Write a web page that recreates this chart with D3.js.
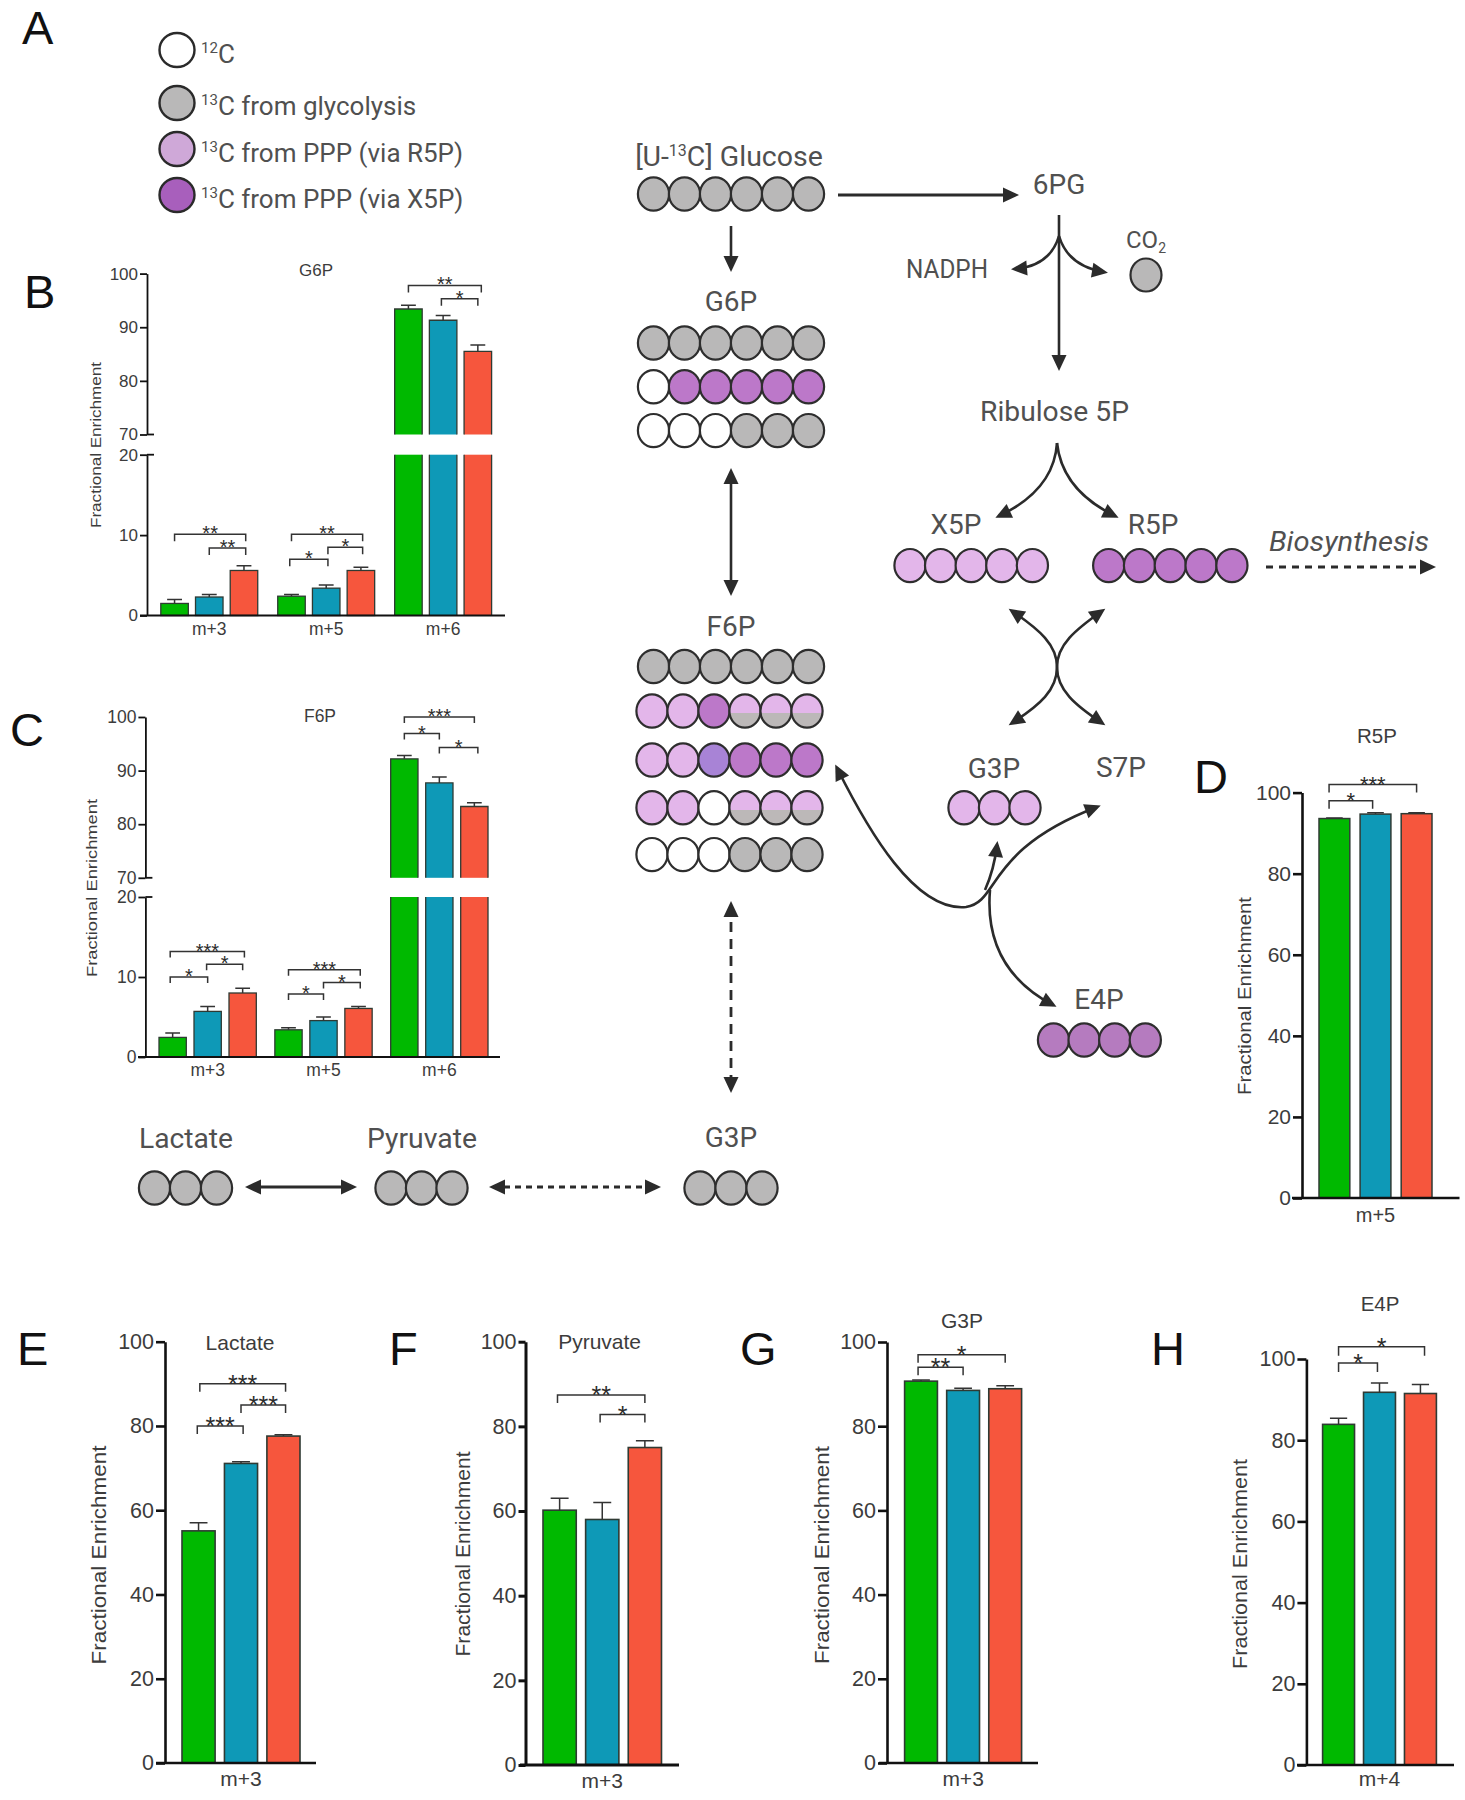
<!DOCTYPE html>
<html><head><meta charset="utf-8">
<script src="https://cdn.jsdelivr.net/npm/d3@7/dist/d3.min.js"></script>
<style>html,body{margin:0;padding:0;background:#fff}svg{display:block}</style>
</head><body><svg id="c" width="1465" height="1800" viewBox="0 0 1465 1800"></svg>
<script>
// ---------- data ----------
const seriesColors = ['#00b900', '#0e99b7', '#f6563d'];
const g6pCats = ['m+3', 'm+5', 'm+6'];
const g6pMeans = [1.5, 2.3, 5.6, 2.4, 3.4, 5.6, 93.4, 91.3, 85.5];
const g6pTops  = [2.0, 2.6, 6.2, 2.6, 3.8, 6.0, 94.1, 92.2, 86.7];
const g6pBrackets = [[0,2.05,10.1,'**'],[1,2.05,8.4,'**'],[3,5.05,10.1,'**'],[2.95,4.05,7.0,'*'],[4.05,5.05,8.5,'*'],[6,8.1,97.8,'**'],[6.95,8,95.3,'*']];
const f6pCats = ['m+3', 'm+5', 'm+6'];
const f6pMeans = [2.45, 5.7, 8.0, 3.4, 4.55, 6.07, 92.2, 87.7, 83.3];
const f6pTops  = [3.0, 6.3, 8.6, 3.66, 5.0, 6.3, 92.8, 88.8, 84.0];
const f6pBrackets = [[-0.07,2.05,13.2,'***'],[-0.07,1,10,'*'],[0.97,2,11.6,'*'],[3,5.05,10.9,'***'],[3,4,7.86,'*'],[4,5.05,9.3,'*'],[6,8,100,'***'],[6,7,96.9,'*'],[7,8.1,94.3,'*']];
const r5pMeans = [93.6, 94.7, 94.8], r5pTops = [93.75, 95.05, 95.05];
const r5pBrackets = [[-0.13,2,102,'***'],[-0.13,0.93,98,'*']];
const lacMeans = [55.1, 71.1, 77.6], lacTops = [57, 71.5, 77.9];
const lacBrackets = [[0.03,2.05,90,'***'],[1,2.05,85,'***'],[-0.03,1.05,80,'***']];
const pyrMeans = [60.2, 58, 75], pyrTops = [63, 62, 76.6];
const pyrBrackets = [[-0.05,2,87.4,'**'],[0.95,2,82.8,'*']];
const g3pMeans = [90.7, 88.5, 88.9], g3pTops = [91, 89, 89.6];
const g3pBrackets = [[-0.07,2,97,'*'],[-0.07,1,94,'**']];
const e4pMeans = [83.9, 91.8, 91.5], e4pTops = [85.4, 94.1, 93.7];
const e4pBrackets = [[0,2.1,103,'*'],[0,0.95,99,'*']];
const brokenTicksLow = [0, 10, 20], brokenTicksHigh = [70, 80, 90, 100];
const plainTicks = [0, 20, 40, 60, 80, 100];
const legendLabels = ['C', 'C from glycolysis', 'C from PPP (via R5P)', 'C from PPP (via X5P)'];
const legendIso = ['12', '13', '13', '13'];
// carbon labelling states: w 12C, g glycolysis, l PPP via R5P, d PPP via X5P, h half, b blue-purple
const rowGlucose = 'gggggg', rowG6P = ['gggggg', 'wddddd', 'wwwggg'];
const rowF6P = ['gggggg', 'lldhhh', 'llbddd', 'llwhhh', 'wwwggg'];
const rowX5P = 'lllll', rowR5P = 'ddddd', rowG3Pa = 'lll', rowE4P = 'eeee', rowGray3 = 'ggg', rowCO2 = 'g';

// ---------- helpers ----------
const svg = d3.select('#c');
const defs = svg.append('defs');
const INK = '#2b2b2b', GREY = '#505050';
const mk = defs.append('marker').attr('id', 'ah').attr('markerUnits', 'userSpaceOnUse')
  .attr('viewBox', '-1 -9 18 18').attr('markerWidth', 18).attr('markerHeight', 18)
  .attr('refX', 12).attr('refY', 0).attr('orient', 'auto-start-reverse');
mk.append('path').attr('d', 'M0,-7.5L16,0L0,7.5Z').attr('fill', INK);
const grad = defs.append('linearGradient').attr('id', 'half').attr('x1', 0).attr('x2', 0).attr('y1', 0).attr('y2', 1);
[[0, '#e3b6ea'], [.56, '#e3b6ea'], [.56, '#bcb8b8'], [1, '#bcb8b8']].forEach(s => grad.append('stop').attr('offset', s[0]).attr('stop-color', s[1]));

const fills = { w: '#ffffff', g: '#b9b8b8', l: '#e3b6ea', d: '#bc78c9', b: '#a883d6', h: 'url(#half)', e: '#b57bbf' };
function drawRow(states, cx0, cy, step, rx = 15.6, ry = 16.6) {
  const x = d3.scaleLinear().domain([0, 1]).range([cx0, cx0 + step]);
  svg.append('g').selectAll('ellipse').data(states.split('')).join('ellipse')
    .attr('cx', (d, i) => x(i)).attr('cy', cy).attr('rx', rx).attr('ry', ry)
    .attr('fill', d => fills[d]).attr('stroke', '#2e2e2e').attr('stroke-width', 2.2);
}
function label(t, x, y, size, opts = {}) {
  const s = svg.append('text').attr('x', x).attr('y', y).attr('dy', '.35em').attr('text-anchor', opts.anchor || 'middle')
    .attr('font-family', opts.family || 'Roboto, sans-serif').attr('font-size', size).attr('font-weight', opts.weight || 400)
    .attr('fill', opts.fill || GREY).attr('font-style', opts.style || 'normal').text(t);
  if (opts.len) s.attr('textLength', opts.len).attr('lengthAdjust', 'spacingAndGlyphs');
  return s;
}
function arrow(d, o = {}) {
  const p = svg.append('path').attr('d', d).attr('fill', 'none').attr('stroke', INK).attr('stroke-width', o.w || 2.6)
    .attr('stroke-dasharray', o.dash || null);
  if (o.end !== false) p.attr('marker-end', 'url(#ah)');
  if (o.start) p.attr('marker-start', 'url(#ah)');
}
function seg(pts) { const p = d3.path(); p.moveTo(pts[0], pts[1]); p.lineTo(pts[2], pts[3]); return p.toString(); }
function q(x0, y0, cx, cy, x1, y1) { const p = d3.path(); p.moveTo(x0, y0); p.quadraticCurveTo(cx, cy, x1, y1); return p.toString(); }
function c(x0, y0, a, b, e, f, x1, y1) { const p = d3.path(); p.moveTo(x0, y0); p.bezierCurveTo(a, b, e, f, x1, y1); return p.toString(); }
function c2(x0, y0, a, b, e, f, x1, y1, g, h, i, j, x2, y2) { const p = d3.path(); p.moveTo(x0, y0); p.bezierCurveTo(a, b, e, f, x1, y1); p.bezierCurveTo(g, h, i, j, x2, y2); return p.toString(); }

function barPanel(o) {
  const g = svg.append('g');
  const x0 = d3.scaleBand().domain(o.cats).range([o.barL, o.barR]).paddingInner(o.groupGap || 0);
  const x1 = d3.scaleBand().domain([0, 1, 2]).range([0, x0.bandwidth()]).paddingInner(o.barGap);
  const bw = x1.bandwidth();
  const barX = i => x0(o.cats[Math.floor(i / 3)]) + x1(i % 3);
  const center = v => { const i = Math.round(v); return barX(i) + bw / 2 + (v - i) * x1.step(); };
  let y, axes = [];
  if (o.broken) {
    y = d3.scaleLinear().domain([0, 20, 70, 100]).range(o.yr);
    const low = d3.scaleLinear().domain([0, 20]).range([o.yr[0], o.yr[1]]);
    const high = d3.scaleLinear().domain([70, 100]).range([o.yr[2], o.yr[3]]);
    axes = [[low, brokenTicksLow], [high, brokenTicksHigh]];
  } else {
    y = d3.scaleLinear().domain([0, 100]).range(o.yr);
    axes = [[y, plainTicks]];
  }
  // bars
  const idx = d3.range(o.means.length);
  idx.forEach(i => {
    const v = o.means[i], col = seriesColors[i % 3];
    if (o.broken && v > 20) {
      g.append('rect').attr('x', barX(i)).attr('width', bw).attr('y', y(20)).attr('height', y(0) - y(20)).attr('fill', col);
      g.append('rect').attr('x', barX(i)).attr('width', bw).attr('y', y(v)).attr('height', y(70) - y(v)).attr('fill', col);
      g.append('path').attr('d', `M${barX(i)},${y(70)}V${y(v)}H${barX(i) + bw}V${y(70)}M${barX(i)},${y(20)}V${y(0)}M${barX(i) + bw},${y(20)}V${y(0)}`)
        .attr('fill', 'none').attr('stroke', '#2f3a33').attr('stroke-width', o.barStroke);
    } else {
      g.append('rect').attr('x', barX(i)).attr('width', bw).attr('y', y(v)).attr('height', y(0) - y(v))
        .attr('fill', col).attr('stroke', '#2f3a33').attr('stroke-width', o.barStroke);
    }
    const cx = barX(i) + bw / 2, cap = bw * .27;
    g.append('path').attr('d', `M${cx},${y(v)}V${y(o.tops[i])}M${cx - cap},${y(o.tops[i])}H${cx + cap}`)
      .attr('fill', 'none').attr('stroke', '#333').attr('stroke-width', 1.5);
  });
  // axes
  axes.forEach(([sc, tv]) => {
    const a = g.append('g').attr('transform', `translate(${o.axisX},0)`)
      .call(d3.axisLeft(sc).tickValues(tv).tickSize(o.tickLen).tickSizeOuter(0).tickPadding(2));
    a.select('.domain').attr('stroke', '#111').attr('stroke-width', o.axisW);
    a.selectAll('.tick line').attr('stroke', '#111').attr('stroke-width', o.axisW);
    a.selectAll('.tick text').attr('font-family', 'Liberation Sans, Arial, sans-serif').attr('font-size', o.tickFont).attr('fill', '#3c3c3c');
  });
  if (o.broken) [20, 70].forEach(v => g.append('line').attr('x1', o.axisX).attr('x2', o.axisX + 7).attr('y1', y(v)).attr('y2', y(v)).attr('stroke', '#111').attr('stroke-width', o.axisW));
  // baseline + category labels
  g.append('line').attr('x1', o.baseL).attr('x2', o.baseR).attr('y1', y(0)).attr('y2', y(0)).attr('stroke', '#111').attr('stroke-width', o.axisW);
  const xa = g.append('g').attr('transform', `translate(0,${y(0)})`).call(d3.axisBottom(x0).tickSize(0).tickPadding(o.catPad));
  xa.select('.domain').remove();
  xa.selectAll('.tick text').attr('font-family', 'Liberation Sans, Arial, sans-serif').attr('font-size', o.catFont).attr('fill', '#3c3c3c');
  // brackets
  o.brackets.forEach(([a, b, v, s]) => {
    const xa_ = center(a), xb = center(b), yy = y(v);
    g.append('path').attr('d', `M${xa_},${yy + o.tip}V${yy}H${xb}V${yy + o.tip}`).attr('fill', 'none').attr('stroke', '#333').attr('stroke-width', 1.5);
    g.append('text').attr('x', (xa_ + xb) / 2).attr('y', yy + .58 * o.starFont - 5.5).attr('text-anchor', 'middle')
      .attr('font-family', 'Liberation Sans, Arial, sans-serif').attr('font-size', o.starFont).attr('fill', '#2b2b2b').text(s);
  });
  // title + y label
  label(o.title, o.titleX, o.titleY, o.titleFont, { family: 'Liberation Sans, Arial, sans-serif', fill: '#3c3c3c' });
  svg.append('text').attr('transform', `translate(${o.ylabX},${o.ylabY}) rotate(-90)`).attr('text-anchor', 'middle').attr('dy', '.35em')
    .attr('font-family', 'Liberation Sans, Arial, sans-serif').attr('font-size', o.ylabFont).attr('fill', '#3c3c3c')
    .attr('textLength', o.ylabLen).attr('lengthAdjust', 'spacingAndGlyphs').text('Fractional Enrichment');
}

// ---------- charts ----------
barPanel({ cats: g6pCats, means: g6pMeans, tops: g6pTops, brackets: g6pBrackets, broken: true, yr: [615.5, 454.7, 434.5, 273.6],
  barL: 160.8, barR: 491.6, groupGap: .171, barGap: .207, axisX: 147, baseL: 140, baseR: 505, tickLen: 7, axisW: 1.8, tickFont: 17, catFont: 17.5, catPad: 7, barStroke: 1.3,
  tip: 7, starFont: 20, title: 'G6P', titleX: 316, titleY: 270, titleFont: 17, ylabX: 96, ylabY: 445, ylabFont: 14.5, ylabLen: 166 });
barPanel({ cats: f6pCats, means: f6pMeans, tops: f6pTops, brackets: f6pBrackets, broken: true, yr: [1057, 897, 877.8, 717],
  barL: 159, barR: 488, groupGap: .16, barGap: .22, axisX: 145.4, baseL: 138, baseR: 500, tickLen: 7, axisW: 1.8, tickFont: 17.5, catFont: 17.5, catPad: 7, barStroke: 1.3,
  tip: 6, starFont: 20, title: 'F6P', titleX: 320, titleY: 716, titleFont: 17.5, ylabX: 92, ylabY: 888, ylabFont: 15.5, ylabLen: 178 });
barPanel({ cats: ['m+5'], means: r5pMeans, tops: r5pTops, brackets: r5pBrackets, yr: [1198, 792.6],
  barL: 1319, barR: 1432, barGap: .25, axisX: 1302, baseL: 1292, baseR: 1459.5, tickLen: 9, axisW: 2.6, tickFont: 21, catFont: 20, catPad: 10, barStroke: 1.5,
  tip: 8, starFont: 22, title: 'R5P', titleX: 1377, titleY: 736, titleFont: 20.5, ylabX: 1244, ylabY: 996, ylabFont: 19, ylabLen: 198 });
barPanel({ cats: ['m+3'], means: lacMeans, tops: lacTops, brackets: lacBrackets, yr: [1763, 1341.7],
  barL: 182, barR: 300, barGap: .22, axisX: 165, baseL: 156, baseR: 316, tickLen: 9, axisW: 2.6, tickFont: 21.5, catFont: 21, catPad: 8, barStroke: 1.6,
  tip: 8, starFont: 25, title: 'Lactate', titleX: 240, titleY: 1343, titleFont: 21, ylabX: 99, ylabY: 1555, ylabFont: 21, ylabLen: 219 });
barPanel({ cats: ['m+3'], means: pyrMeans, tops: pyrTops, brackets: pyrBrackets, yr: [1765, 1341.7],
  barL: 543, barR: 661.5, barGap: .22, axisX: 525.5, baseL: 520, baseR: 679, tickLen: 7, axisW: 3, tickFont: 21.5, catFont: 21, catPad: 8, barStroke: 1.6,
  tip: 8, starFont: 25, title: 'Pyruvate', titleX: 599.6, titleY: 1342, titleFont: 21, ylabX: 462.6, ylabY: 1554, ylabFont: 21, ylabLen: 205 });
barPanel({ cats: ['m+3'], means: g3pMeans, tops: g3pTops, brackets: g3pBrackets, yr: [1763, 1342],
  barL: 904.6, barR: 1021.6, barGap: .22, axisX: 887, baseL: 879, baseR: 1038, tickLen: 9, axisW: 2.6, tickFont: 21.5, catFont: 21, catPad: 8, barStroke: 1.6,
  tip: 8, starFont: 25, title: 'G3P', titleX: 962, titleY: 1321, titleFont: 21, ylabX: 822, ylabY: 1555, ylabFont: 21, ylabLen: 218 });
barPanel({ cats: ['m+4'], means: e4pMeans, tops: e4pTops, brackets: e4pBrackets, yr: [1765, 1359],
  barL: 1322.6, barR: 1436.4, barGap: .22, axisX: 1306.4, baseL: 1297, baseR: 1454, tickLen: 9, axisW: 2.6, tickFont: 21.5, catFont: 21, catPad: 6, barStroke: 1.6,
  tip: 9, starFont: 25, title: 'E4P', titleX: 1380, titleY: 1304, titleFont: 20.5, ylabX: 1240, ylabY: 1564, ylabFont: 20, ylabLen: 210 });

// ---------- panel letters ----------
[['A', 22, 44], ['B', 24, 308], ['C', 10, 746], ['D', 1194, 793], ['E', 17, 1365], ['F', 389, 1365], ['G', 740, 1365], ['H', 1151, 1365]].forEach(([t, x, y]) =>
  svg.append('text').attr('x', x).attr('y', y).attr('font-family', 'Liberation Sans, Arial, sans-serif').attr('font-size', 47).attr('fill', '#111').text(t));

// ---------- legend ----------
[[50, 'w', '#ffffff'], [103, 'g', '#b9b8b8'], [149, 'l', '#cfa8d8'], [195, 'd', '#a85fbc']].forEach(([y, k, f], i) => {
  svg.append('ellipse').attr('cx', 177).attr('cy', y).attr('rx', 17.5).attr('ry', 17).attr('fill', f).attr('stroke', '#2a2a2a').attr('stroke-width', 2.4);
  const t = svg.append('text').attr('x', 201).attr('y', [63, 115, 162, 208][i]).attr('font-family', 'Roboto, sans-serif').attr('font-size', 26).attr('fill', GREY);
  t.append('tspan').attr('font-size', 15).attr('dy', -10).text(legendIso[i]);
  t.append('tspan').attr('dy', 10).text(legendLabels[i]);
});

// ---------- pathway ----------
const step = 31, MF = 28;
drawRow(rowGlucose, 653.5, 194, step);
const gt = svg.append('text').attr('x', 729).attr('y', 166).attr('text-anchor', 'middle').attr('font-family', 'Roboto, sans-serif').attr('font-size', 28.5).attr('fill', GREY);
gt.append('tspan').text('[U-');
gt.append('tspan').attr('font-size', 16).attr('dy', -10).text('13');
gt.append('tspan').attr('dy', 10).text('C] Glucose');
label('6PG', 1059, 184, MF);
label('G6P', 731, 301, MF);
rowG6P.forEach((r, i) => drawRow(r, 653.5, [343, 386.7, 430.6][i], step));
label('F6P', 731, 626, MF);
rowF6P.forEach((r, i) => drawRow(r, i === 0 ? 653.5 : 652, [666.5, 711, 760, 807.7, 854.6][i], step));
label('NADPH', 947, 269, 25, { len: 82 });
const co = svg.append('text').attr('x', 1146).attr('y', 248).attr('text-anchor', 'middle').attr('font-family', 'Roboto, sans-serif').attr('font-size', 24).attr('fill', GREY);
co.append('tspan').text('CO');
co.append('tspan').attr('font-size', 14).attr('dy', 5).text('2');
drawRow(rowCO2, 1146, 275, step, 15.5, 16.5);
label('Ribulose 5P', 1054.5, 411, MF, { len: 149 });
label('X5P', 956, 524, MF);
label('R5P', 1153, 524, MF);
drawRow(rowX5P, 910, 565.6, 30.6);
drawRow(rowR5P, 1108.7, 565.6, 30.8);
label('Biosynthesis', 1349, 541, 28, { style: 'italic', len: 160 });
label('G3P', 994, 767.7, MF);
label('S7P', 1121, 767, MF);
drawRow(rowG3Pa, 964, 807.7, 30.5);
label('E4P', 1099, 999.4, MF);
drawRow(rowE4P, 1053.5, 1040, 30.6);
label('G3P', 731, 1137, MF);
drawRow(rowGray3, 700, 1188, 31);
label('Lactate', 186, 1138, MF, { len: 94 });
drawRow(rowGray3, 154.5, 1188, 31);
label('Pyruvate', 422, 1138, MF, { len: 110 });
drawRow(rowGray3, 391, 1188, 30.5);

arrow(seg([838, 195, 1015, 195]), { w: 3 });
arrow(seg([731, 226, 731, 268]));
arrow(seg([731, 472, 731, 592]), { start: true });
arrow(seg([1059, 215, 1059, 367]));
arrow(q(1059, 236, 1050, 266, 1015, 269));
arrow(q(1059, 236, 1068, 266, 1104, 272));
arrow(q(1057, 443, 1054, 490, 999, 516));
arrow(q(1057, 443, 1062, 490, 1115, 516));
arrow(seg([1266, 567, 1432, 567]), { dash: '7 6', w: 3 });
arrow(c2(1012, 611, 1040, 630, 1057, 645, 1057, 667, 1057, 690, 1075, 705, 1102, 723), { start: true });
arrow(c2(1102, 611, 1075, 630, 1057, 645, 1057, 667, 1057, 690, 1040, 705, 1012, 723), { start: true });
arrow(c2(837, 768, 868, 830, 915, 912, 966, 907, 1000, 902, 985, 850, 1097, 807), { start: true });
arrow(q(985, 890, 994, 870, 997, 845));
arrow(c(990, 890, 985, 950, 1015, 985, 1053, 1005));
arrow(seg([731, 905, 731, 1089]), { start: true, dash: '10 7', w: 2.8 });
arrow(seg([249, 1187, 353, 1187]), { start: true, w: 3 });
arrow(seg([493, 1187, 657, 1187]), { start: true, dash: '6 5', w: 3 });
</script></body></html>
